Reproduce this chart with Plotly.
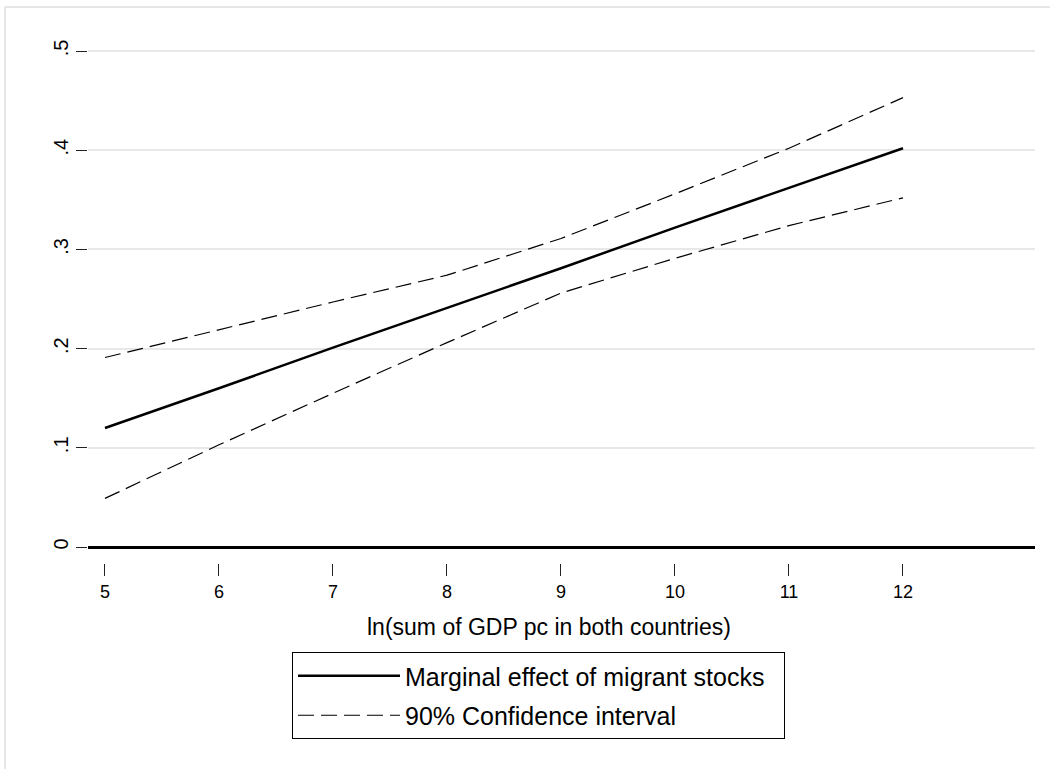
import plotly.graph_objects as go

# Data
x_vals = [5, 6, 7, 8, 9, 10, 11, 12]
marginal_effect = [0.120, 0.160, 0.201, 0.241, 0.281, 0.322, 0.362, 0.402]
ci_upper = [0.191, 0.219, 0.247, 0.274, 0.311, 0.356, 0.402, 0.453]
ci_lower = [0.049, 0.103, 0.155, 0.206, 0.256, 0.291, 0.324, 0.352]

x_ticks = [5, 6, 7, 8, 9, 10, 11, 12]
y_ticks = [0, 0.1, 0.2, 0.3, 0.4, 0.5]
y_tick_labels = ["0", ".1", ".2", ".3", ".4", ".5"]

x_title = "ln(sum of GDP pc in both countries)"
name_me = "Marginal effect of migrant stocks"
name_ci = "90% Confidence interval"

FONT = "Liberation Sans, Arial, sans-serif"
DASH = "16px,7px"
PAD = "\u00a0\u00a0"            # right padding inside the legend box

fig = go.Figure()
fig.add_trace(go.Scatter(
    x=x_vals, y=marginal_effect, mode="lines", name=name_me + PAD,
    line=dict(color="black", width=2.5), legendgroup="a",
))
fig.add_trace(go.Scatter(
    x=x_vals, y=ci_upper, mode="lines", name=name_ci,
    line=dict(color="black", width=1.2, dash=DASH), legendgroup="b",
))
fig.add_trace(go.Scatter(
    x=x_vals, y=ci_lower, mode="lines", name=name_ci, showlegend=False,
    line=dict(color="black", width=1.2, dash=DASH), legendgroup="b",
))

W, H = 1050, 769
ml, mr, mt, mb = 88, 15, 30, 206
PW, PH = W - ml - mr, H - mt - mb

fig.update_layout(
    width=W, height=H,
    margin=dict(l=ml, r=mr, t=mt, b=mb, pad=0, autoexpand=False),
    paper_bgcolor="white", plot_bgcolor="white",
    font=dict(family=FONT, color="black", size=18),
    xaxis=dict(
        range=[4.851, 13.158],
        tickvals=x_ticks, ticktext=[str(v) for v in x_ticks],
        ticks="outside", ticklen=12, tickwidth=1, tickcolor="#222",
        showgrid=False, zeroline=False, showline=False,
        tickfont=dict(size=18),
    ),
    yaxis=dict(
        range=[-0.01613, 0.52117],
        tickvals=y_ticks, ticktext=y_tick_labels, tickangle=-90,
        ticks="outside", ticklen=11, tickwidth=1, tickcolor="#222",
        showgrid=True, gridcolor="#e8e8e8", gridwidth=2,
        zeroline=True, zerolinecolor="black", zerolinewidth=2.5,
        showline=False, tickfont=dict(size=20),
    ),
    annotations=[
        dict(text=x_title, xref="paper", yref="paper",
             x=(548.5 - ml) / PW, y=(H - mb - 627) / PH,
             xanchor="center", yanchor="middle", showarrow=False,
             font=dict(size=23)),
    ],
    legend=dict(
        x=(292 - ml) / PW, y=(H - mb - 652) / PH,
        xanchor="left", yanchor="top",
        bordercolor="black", borderwidth=1, bgcolor="white",
        font=dict(size=25), traceorder="grouped", tracegroupgap=4,
        itemwidth=102,
    ),
    shapes=[
        dict(type="line", xref="paper", yref="paper",
             x0=(5 - ml) / PW, x1=1.1,
             y0=(H - mb - 7) / PH, y1=(H - mb - 7) / PH,
             line=dict(color="#e6e6e6", width=2)),
        dict(type="line", xref="paper", yref="paper",
             x0=(5 - ml) / PW, x1=(5 - ml) / PW,
             y0=(H - mb - 7) / PH, y1=-1,
             line=dict(color="#e6e6e6", width=2)),
    ],
    showlegend=True,
)

fig.write_html(
    "out.html",
    config={"displayModeBar": False},
    post_script="document.body.style.margin='0px';",
)
